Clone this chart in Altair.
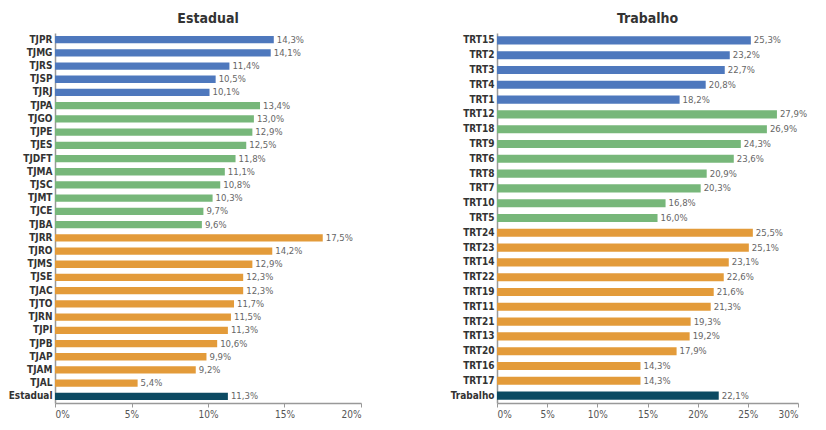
import altair as alt
import pandas as pd

est_names = ["TJPR", "TJMG", "TJRS", "TJSP", "TJRJ",
             "TJPA", "TJGO", "TJPE", "TJES", "TJDFT", "TJMA", "TJSC", "TJMT", "TJCE", "TJBA",
             "TJRR", "TJRO", "TJMS", "TJSE", "TJAC", "TJTO", "TJRN", "TJPI", "TJPB", "TJAP", "TJAM", "TJAL",
             "Estadual"]
est_values = [14.3, 14.1, 11.4, 10.5, 10.1,
              13.4, 13.0, 12.9, 12.5, 11.8, 11.1, 10.8, 10.3, 9.7, 9.6,
              17.5, 14.2, 12.9, 12.3, 12.3, 11.7, 11.5, 11.3, 10.6, 9.9, 9.2, 5.4,
              11.3]
est_groups = ["Grande"] * 5 + ["Médio"] * 10 + ["Pequeno"] * 12 + ["Total"]

trt_names = ["TRT15", "TRT2", "TRT3", "TRT4", "TRT1",
             "TRT12", "TRT18", "TRT9", "TRT6", "TRT8", "TRT7", "TRT10", "TRT5",
             "TRT24", "TRT23", "TRT14", "TRT22", "TRT19", "TRT11", "TRT21", "TRT13", "TRT20", "TRT16", "TRT17",
             "Trabalho"]
trt_values = [25.3, 23.2, 22.7, 20.8, 18.2,
              27.9, 26.9, 24.3, 23.6, 20.9, 20.3, 16.8, 16.0,
              25.5, 25.1, 23.1, 22.6, 21.6, 21.3, 19.3, 19.2, 17.9, 14.3, 14.3,
              22.1]
trt_groups = ["Grande"] * 5 + ["Médio"] * 8 + ["Pequeno"] * 11 + ["Total"]

group_domain = ["Grande", "Médio", "Pequeno", "Total"]
group_colors = ["#4e78bd", "#77b77a", "#e39b3a", "#0c4a62"]

FONT = "DejaVu Sans Condensed"


def make_df(names, values, groups):
    df = pd.DataFrame({"nome": names, "valor": values, "grupo": groups})
    df["frac"] = df["valor"] / 100.0
    df["rotulo"] = df["valor"].map(lambda v: f"{v:.1f}%".replace(".", ","))
    return df


def panel(df, title, xmax, width):
    base = alt.Chart(df).encode(
        y=alt.Y("nome:N", sort=list(df["nome"]), title=None,
                scale=alt.Scale(paddingInner=0.45, paddingOuter=0.225),
                axis=alt.Axis(ticks=False, labelFont=FONT, labelFontSize=10,
                              labelFontWeight="bold", labelColor="#333333",
                              domainColor="#999999", domainWidth=1.5, labelPadding=3)),
        x=alt.X("frac:Q", title=None,
                scale=alt.Scale(domain=[0, xmax], nice=False),
                axis=alt.Axis(format=".0%", values=[i / 100 for i in range(0, int(xmax * 100) + 1, 5)],
                              grid=False, labelFont=FONT, labelFontSize=10, labelColor="#555555",
                              domainColor="#999999", domainWidth=1.5, tickColor="#999999",
                              tickSize=4, labelPadding=2)),
    )
    bars = base.mark_bar().encode(
        color=alt.Color("grupo:N", scale=alt.Scale(domain=group_domain, range=group_colors), legend=None)
    )
    text = base.mark_text(align="left", dx=3, font=FONT, fontSize=9.5, color="#666666").encode(
        text="rotulo:N"
    )
    return (bars + text).properties(
        width=width, height=370,
        title=alt.TitleParams(title, font=FONT, fontSize=14, fontWeight="bold", color="#333333",
                              anchor="middle", offset=7)
    )


left = panel(make_df(est_names, est_values, est_groups), "Estadual", 0.20, 306)
right = panel(make_df(trt_names, trt_values, trt_groups), "Trabalho", 0.30, 301)

chart = alt.hconcat(left, right, spacing=88).properties(
    padding={"left": 0, "top": 4, "right": 4, "bottom": 1}
).configure_view(stroke=None)

chart.save("out.html", embed_options={"renderer": "svg", "actions": False})
